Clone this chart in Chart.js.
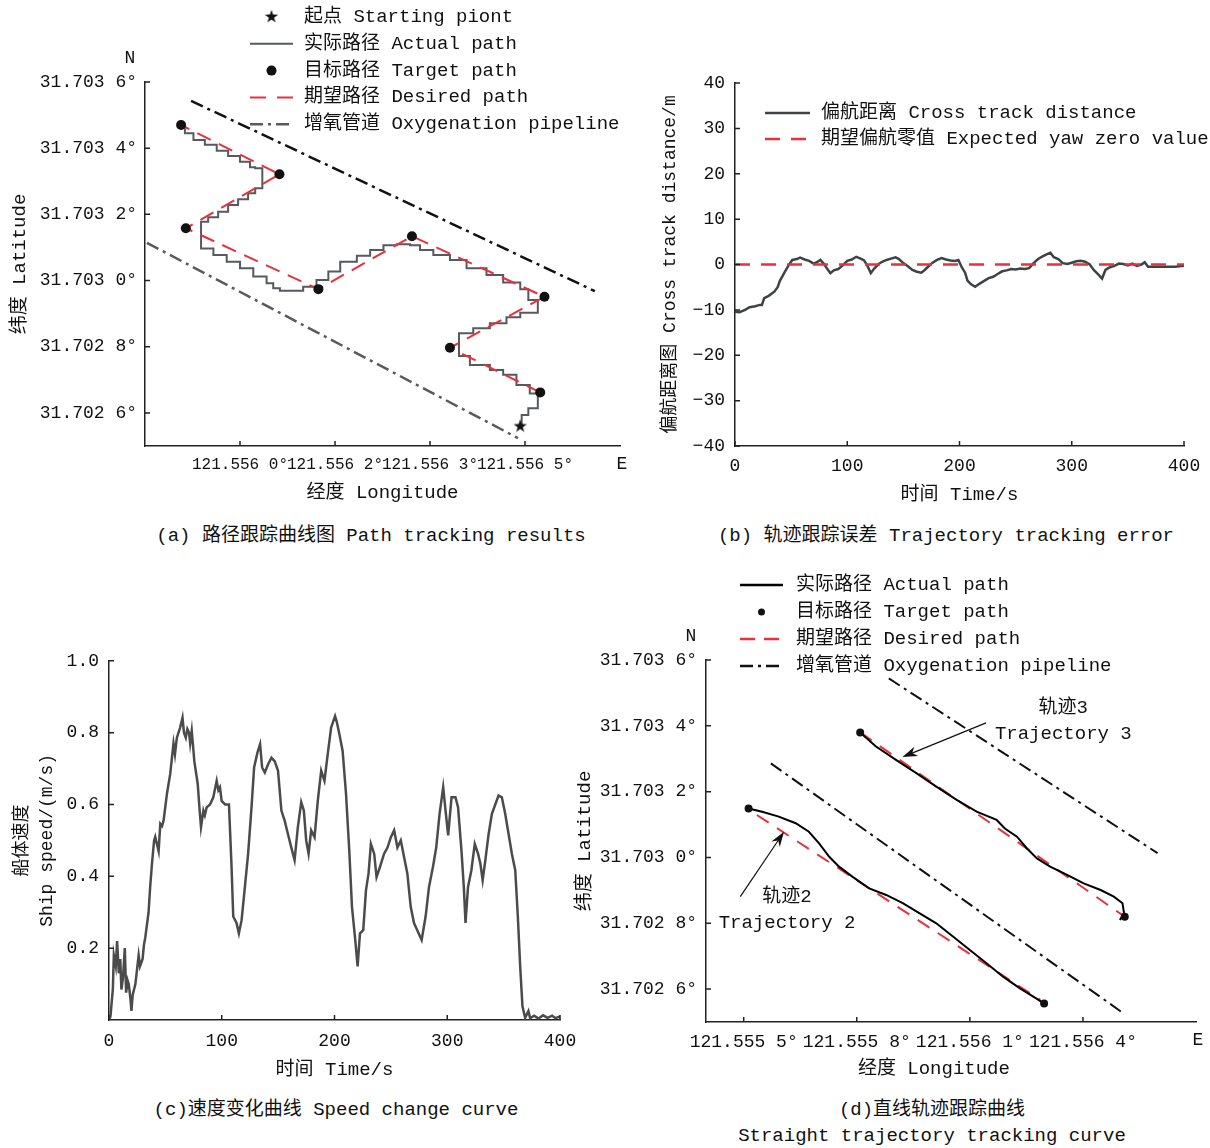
<!DOCTYPE html>
<html>
<head>
<meta charset="utf-8">
<script src="https://cdn.jsdelivr.net/npm/chart.js@4.4.1/dist/chart.umd.min.js"></script>
<style>
body{margin:0;background:#fff;width:1210px;height:1148px;position:relative;overflow:hidden;
  font-family:"Liberation Mono","Noto Sans CJK SC",monospace;color:#111}
canvas{position:absolute}
.cap{position:absolute;font-size:19px;line-height:26px;white-space:nowrap;transform:translateX(-50%);text-align:center}
</style>
</head>
<body>
<canvas id="ca" width="640" height="515" style="left:0;top:0"></canvas>
<canvas id="cb" width="565" height="455" style="left:645px;top:60px"></canvas>
<canvas id="cc" width="600" height="450" style="left:0;top:640px"></canvas>
<canvas id="cd" width="640" height="520" style="left:570px;top:565px"></canvas>
<div class="cap" style="left:371px;top:523px">(a) 路径跟踪曲线图 Path tracking results</div>
<div class="cap" style="left:946px;top:523px">(b) 轨迹跟踪误差 Trajectory tracking error</div>
<div class="cap" style="left:336px;top:1097px">(c)速度变化曲线 Speed change curve</div>
<div class="cap" style="left:932px;top:1097px">(d)直线轨迹跟踪曲线<br>Straight trajectory tracking curve</div>
<script>
// ---------- (a) path tracking ----------
var aPathLon = [121.556590,121.556593,121.556607,121.556607,121.556627,121.556627,121.556610,121.556582,121.556554,121.556526,
  121.556484,121.556461,121.556461,121.556491,121.556526,121.556561,121.556590,121.556627,121.556627,121.556607,
  121.556607,121.556590,121.556554,121.556519,121.556477,121.556442,121.556407,121.556379,121.556358,121.556330,
  121.556302,121.556274,121.556246,121.556211,121.556186,121.556161,121.556133,121.556105,121.556084,121.556070,
  121.556056,121.556028,121.556000,121.555972,121.555944,121.555918,121.555918,121.555933,121.555954,121.555975,
  121.555996,121.556017,121.556032,121.556047,121.556047,121.556032,121.556021,121.556000,121.555975,121.555951,
  121.555926,121.555902,121.555884];
var aPathLat = [31.702563,31.702594,31.702594,31.702614,31.702614,31.702659,31.702684,31.702715,31.702730,31.702745,
  31.702772,31.702785,31.702841,31.702856,31.702871,31.702889,31.702903,31.702916,31.702941,31.702941,
  31.702974,31.702994,31.703017,31.703037,31.703062,31.703077,31.703092,31.703107,31.703110,31.703107,
  31.703092,31.703075,31.703057,31.703027,31.703002,31.702981,31.702969,31.702969,31.702977,31.702992,
  31.703012,31.703037,31.703057,31.703077,31.703097,31.703120,31.703178,31.703191,31.703208,31.703228,
  31.703246,31.703264,31.703279,31.703299,31.703339,31.703342,31.703359,31.703376,31.703392,31.703410,
  31.703425,31.703445,31.703460];
var aTargetLon = [121.556632,121.556442,121.556641,121.556362,121.556165,121.555886,121.556083,121.555876];
var aTargetLat = [31.702662,31.702797,31.702951,31.703134,31.702974,31.703158,31.703321,31.703470];
var aStart = [121.556590, 31.702562];
var aPipeUpperLon = [121.555897, 121.556747], aPipeUpperLat = [31.703543, 31.702968];
var aPipeLowerLon = [121.555804, 121.556585], aPipeLowerLat = [31.703114, 31.702524];
var aXTicks = [121.5560, 121.5562, 121.5564, 121.5566];
var aXLabels = ['121.556 0°', '121.556 2°', '121.556 3°', '121.556 5°'];
var latTicks = [31.7026, 31.7028, 31.7030, 31.7032, 31.7034, 31.7036];
var latLabels = ['31.702 6°', '31.702 8°', '31.703 0°', '31.703 2°', '31.703 4°', '31.703 6°'];

// ---------- (b) cross track error ----------
var bTime = [0,4,9,13,18,22,24,26,30,35,38,40,44,48,51,55,58,62,66,70,73,76,79,82,85,88,92,96,100,104,108,112,115,118,121,124,128,131,135,139,
  143,146,150,154,158,162,166,169,172,176,180,184,188,192,196,199,202,205,207,210,214,218,222,226,230,234,238,242,246,250,254,258,262,266,270,274,278,281,284,288,
  292,296,300,304,308,312,316,320,324,327,330,334,338,342,346,350,354,358,362,365,368,380,392,400];
var bDist = [-10.4,-10.5,-10.0,-9.4,-9.2,-8.9,-8.9,-7.4,-6.9,-6.0,-5.0,-3.6,-1.8,-0.1,1.0,1.2,1.5,1.1,0.8,0.2,0.5,1.0,0.2,-0.9,-1.9,-1.3,-1.0,-0.2,0.8,1.1,1.7,1.3,0.9,-0.3,-1.9,-0.9,0.1,0.6,1.0,1.3,
  1.6,1.2,0.3,-0.4,-1.2,-1.6,-1.8,-1.2,-0.5,0.4,1.0,1.4,1.1,0.9,0.8,1.0,-0.6,-1.8,-3.5,-4.3,-4.9,-4.2,-3.6,-3.0,-2.7,-2.1,-1.5,-1.3,-1.0,-1.1,-0.9,-1.0,-0.8,0.3,1.2,1.8,2.3,2.6,1.6,1.2,
  0.3,0.1,0.4,0.7,0.8,0.6,0.0,-1.3,-2.3,-3.1,-1.2,-0.6,-0.3,0.2,0.1,-0.2,0.2,-0.3,0.0,0.5,-0.5,-0.5,-0.5,-0.3];
var bZero = [0, 0];
var bZeroTime = [0, 400];

// ---------- (c) speed ----------
var cTime = [0,1.3,3.4,4.3,6,7.2,8.7,10,11,12.5,14,15.2,16.5,17.5,19,19.9,21,23.4,26.3,27.5,29.8,31,32.2,35.1,36.5,38.1,40,41,42.5,44,45.5,47,48.4,51.4,54.3,57.2,58.5,60.2,63.1,65.2,
  66.5,68.1,69.5,71,72,73.4,75.7,78.7,80,81.6,83.7,85,86.6,89.6,92.5,95.5,97,98.4,99.9,103,106.4,108.7,110.2,113.1,115.2,117.6,120.5,123.4,126.4,128.7,
  131.7,134,135.8,138.2,141.1,144.1,147,149.9,152.9,155.8,158.7,161.7,164.6,167.5,170.5,172.8,174.9,177,179.3,182.3,185.2,188.2,191.1,194,197,200.5,202,204.3,207.2,210.2,
  213.1,215.5,218.4,220.5,222.6,225.5,227.9,230.2,232.3,235.2,237.3,240.3,244,247,250,252.9,255.8,258.8,261.7,264.6,267.6,270.5,273.4,277.3,280.8,283.8,287.3,290.2,293.2,296.4,
  298.5,300.8,303.8,307.3,309.6,312.6,314.7,316.2,318.4,321.4,324.4,327.3,329.4,331.4,333.8,336.7,339.6,342.6,345.5,348.4,351.4,354.4,357.3,360.3,362.6,364.7,366.7,369.1,372,373.5,
  377,381,385,389,393,396,400];
var cSpeed = [0,0.01,0.085,0.18,0.15,0.22,0.13,0.17,0.085,0.12,0.20,0.076,0.11,0.10,0.06,0.025,0.07,0.10,0.18,0.15,0.17,0.21,0.23,0.30,0.37,0.435,0.50,0.51,0.49,0.47,0.546,0.54,0.555,0.63,0.685,0.77,0.74,0.786,0.814,0.842,
  0.80,0.786,0.81,0.80,0.77,0.805,0.72,0.657,0.60,0.537,0.583,0.57,0.592,0.60,0.62,0.666,0.64,0.648,0.61,0.60,0.60,0.426,0.288,0.27,0.241,0.278,0.37,0.463,0.592,0.703,
  0.745,0.768,0.703,0.689,0.712,0.73,0.72,0.694,0.583,0.555,0.518,0.48,0.445,0.537,0.606,0.583,0.50,0.463,0.528,0.509,0.611,0.694,0.666,0.74,0.814,0.846,0.83,0.796,0.749,0.63,
  0.472,0.315,0.223,0.149,0.241,0.25,0.361,0.408,0.49,0.463,0.398,0.426,0.463,0.48,0.509,0.528,0.48,0.50,0.454,0.408,0.315,0.27,0.25,0.223,0.288,0.37,0.426,0.48,0.574,0.648,
  0.583,0.514,0.62,0.62,0.592,0.472,0.37,0.27,0.37,0.417,0.49,0.463,0.435,0.389,0.445,0.518,0.574,0.60,0.625,0.62,0.574,0.518,0.463,0.417,0.288,0.149,0.038,0.006,0.025,0.005,
  0.012,0.004,0.013,0.006,0.012,0.005,0.01];
var cYTicks = [0.2, 0.4, 0.6, 0.8, 1.0];

// ---------- (d) straight tracking ----------
var d3Lon = [121.555809,121.555851,121.555905,121.555958,121.556011,121.556065,121.556118,121.556171,121.556193,121.556225,
  121.556251,121.556278,121.556313,121.556358,121.556402,121.556447,121.556482,121.556505,121.556509,121.556498];
var d3Lat = [31.703380,31.703337,31.703296,31.703256,31.703215,31.703175,31.703139,31.703114,31.703088,31.703063,
  31.703028,31.702997,31.702972,31.702947,31.702921,31.702901,31.702881,31.702861,31.702830,31.702810];
var d2Lon = [121.555513,121.555549,121.555593,121.555638,121.555673,121.555700,121.555727,121.555753,121.555789,121.555833,
  121.555878,121.555922,121.555967,121.556011,121.556056,121.556100,121.556145,121.556189,121.556233,121.556278,121.556297];
var d2Lat = [31.703149,31.703139,31.703124,31.703104,31.703078,31.703043,31.703002,31.702972,31.702941,31.702906,
  31.702886,31.702861,31.702830,31.702800,31.702759,31.702719,31.702678,31.702637,31.702602,31.702570,31.702556];
var dTargetLon = [121.555809, 121.556511, 121.555513, 121.556297];
var dTargetLat = [31.703380, 31.702820, 31.703149, 31.702556];
var dDesired3Lon = [121.555809, 121.556511], dDesired3Lat = [31.703380, 31.702820];
var dDesired2Lon = [121.555535, 121.556287], dDesired2Lat = [31.703129, 31.702567];
var dPipeUpperLon = [121.555885, 121.556598], dPipeUpperLat = [31.703544, 31.703013];
var dPipeLowerLon = [121.555572, 121.556508], dPipeLowerLat = [31.703286, 31.702526];
var dXTicks = [121.5555, 121.5558, 121.5561, 121.5564];
var dXLabels = ['121.555 5°', '121.555 8°', '121.556 1°', '121.556 4°'];
var dArrowFrom = [[121.556143, 31.703409], [121.555491, 31.702881]];
var dArrowTo = [[121.555921, 31.703305], [121.555607, 31.703078]];
var dNoteLon = [121.556348, 121.555615];
var dNoteLat = [[31.703454, 31.703375], [31.702880, 31.702801]];
var dNotes = [['轨迹3', 'Trajectory 3'], ['轨迹2', 'Trajectory 2']];

// ---------- shared helpers ----------
var FAM = '"Liberation Mono", "Noto Sans CJK SC", monospace';
var RED = '#e8313c', INK = '#111';
Chart.defaults.font.family = FAM;
Chart.defaults.color = INK;
Chart.defaults.animation = false;

function pts(xs, ys) {
  var out = [];
  for (var i = 0; i < xs.length; i++) out.push({x: xs[i], y: ys[i]});
  return out;
}
function fnt(sz) { return sz + 'px ' + FAM; }

var starImg = document.createElement('canvas');
starImg.width = 16; starImg.height = 16;
(function() {
  var c = starImg.getContext('2d');
  c.fillStyle = INK; c.beginPath();
  for (var i = 0; i < 10; i++) {
    var r = i % 2 ? 2.7 : 7, a = -Math.PI / 2 + i * Math.PI / 5;
    c.lineTo(8 + r * Math.cos(a), 8.8 + r * Math.sin(a));
  }
  c.closePath(); c.fill();
})();

// ticks pointing into the plot, N / E marks
var inwardTicks = {
  id: 'inwardTicks',
  afterDraw: function(chart, args, opts) {
    var ctx = chart.ctx, x = chart.scales.x, y = chart.scales.y;
    ctx.save();
    ctx.strokeStyle = '#222'; ctx.lineWidth = 1.5;
    ctx.beginPath();
    x.ticks.forEach(function(t) { var p = x.getPixelForValue(t.value); ctx.moveTo(p, x.top); ctx.lineTo(p, x.top - 5); });
    y.ticks.forEach(function(t) { var p = y.getPixelForValue(t.value); ctx.moveTo(y.right, p); ctx.lineTo(y.right + 5, p); });
    ctx.stroke();
    if (opts.compass) {
      ctx.fillStyle = INK; ctx.font = fnt(18); ctx.textAlign = 'center'; ctx.textBaseline = 'middle';
      ctx.fillText('N', y.right - 15, y.top - 24);
      ctx.fillText('E', x.right + 2, x.top + 18);
    }
    ctx.restore();
  }
};

function legendPlugin(items, L) {
  return {
    id: 'customLegend',
    afterDraw: function(chart) {
      var ctx = chart.ctx;
      ctx.save();
      items.forEach(function(it, i) {
        var yy = L.y0 + i * L.dy, xm = (L.x0 + L.x1) / 2;
        ctx.strokeStyle = it.color; ctx.fillStyle = it.color; ctx.lineWidth = it.width || 2;
        if (it.kind === 'line') {
          ctx.setLineDash(it.dash || []);
          ctx.beginPath(); ctx.moveTo(L.x0, yy); ctx.lineTo(L.x1, yy); ctx.stroke();
          ctx.setLineDash([]);
        } else if (it.kind === 'dot') {
          ctx.beginPath(); ctx.arc(xm, yy, it.r, 0, 2 * Math.PI); ctx.fill();
        } else if (it.kind === 'star') {
          ctx.drawImage(starImg, xm - 8, yy - 9);
        }
        ctx.fillStyle = INK; ctx.font = fnt(19); ctx.textAlign = 'left'; ctx.textBaseline = 'middle';
        ctx.fillText(it.text, L.tx, yy);
      });
      ctx.restore();
    }
  };
}

function axisBase(min, max, tickVals, labels, fontSize, pad) {
  return {
    type: 'linear', min: min, max: max,
    grid: {display: false, drawTicks: false},
    border: {color: '#222', width: 1.5},
    afterBuildTicks: function(s) { s.ticks = tickVals.map(function(v) { return {value: v}; }); },
    ticks: {
      autoSkip: false, maxRotation: 0, minRotation: 0, padding: pad,
      font: {size: fontSize}, color: INK,
      callback: function(v, i) { return labels[i]; }
    }
  };
}

var DASHDOT = [13, 5, 3, 5];

// ---------- chart (a) ----------
(function() {
  var xs = axisBase(121.5558, 121.5568, aXTicks, aXLabels, 16, 9);
  xs.afterFit = function(s) { s.height = 69; };
  xs.title = {display: true, text: '经度 Longitude', font: {size: 19}, color: INK, padding: {top: 0, bottom: 10.6}};
  var ys = axisBase(31.7025, 31.7036, latTicks, latLabels, 18, 8);
  ys.afterFit = function(s) { s.width = 145; };
  ys.title = {display: true, text: '纬度 Latitude', font: {size: 19}, color: INK, padding: {top: 8.6, bottom: 0}};

  new Chart(document.getElementById('ca'), {
    type: 'scatter',
    data: {datasets: [
      {data: [{x: aStart[0], y: aStart[1]}], pointStyle: starImg, pointRadius: 8, showLine: false},
      {data: pts(aTargetLon, aTargetLat), pointRadius: 5, pointBackgroundColor: INK, pointBorderWidth: 0, showLine: false},
      {data: pts(aTargetLon, aTargetLat), showLine: true, pointRadius: 0, borderColor: RED, borderWidth: 2, borderDash: [15, 9]},
      {data: pts(aPathLon, aPathLat), showLine: true, stepped: true, pointRadius: 0, borderColor: '#565a5c', borderWidth: 2},
      {data: pts(aPipeUpperLon, aPipeUpperLat), showLine: true, pointRadius: 0, borderColor: '#111', borderWidth: 2.5, borderDash: DASHDOT},
      {data: pts(aPipeLowerLon, aPipeLowerLat), showLine: true, pointRadius: 0, borderColor: '#5a5a5a', borderWidth: 2.5, borderDash: DASHDOT}
    ]},
    options: {
      responsive: false,
      layout: {padding: {left: 0, top: 82, right: 20, bottom: 0}},
      plugins: {legend: {display: false}, tooltip: {enabled: false}, inwardTicks: {compass: true}},
      scales: {x: xs, y: ys}
    },
    plugins: [inwardTicks, legendPlugin([
      {kind: 'star', color: INK, text: '起点 Starting piont'},
      {kind: 'line', color: '#565a5c', width: 2, text: '实际路径 Actual path'},
      {kind: 'dot', color: INK, r: 5, text: '目标路径 Target path'},
      {kind: 'line', color: RED, width: 2, dash: [16, 11], text: '期望路径 Desired path'},
      {kind: 'line', color: '#5a5a5a', width: 2.5, dash: DASHDOT, text: '增氧管道 Oxygenation pipeline'}
    ], {x0: 250, x1: 293, tx: 304, y0: 17, dy: 26.8})]
  });
})();

// ---------- chart (b) ----------
(function() {
  var xs = axisBase(0, 400, [0, 100, 200, 300, 400], ['0', '100', '200', '300', '400'], 18, 9);
  xs.afterFit = function(s) { s.height = 69; };
  xs.title = {display: true, text: '时间 Time/s', font: {size: 19}, color: INK, padding: {top: 0, bottom: 8.6}};
  var yv = [-40, -30, -20, -10, 0, 10, 20, 30, 40];
  var ys = axisBase(-40, 40, yv, yv.map(function(v) { return String(v).replace('-', '−'); }), 18, 10);
  ys.afterFit = function(s) { s.width = 90; };
  ys.title = {display: true, text: '偏航距离图 Cross track distance/m', font: {size: 18}, color: INK, padding: {top: 14, bottom: 0}};

  new Chart(document.getElementById('cb'), {
    type: 'scatter',
    data: {datasets: [
      {data: pts(bZeroTime, bZero), showLine: true, pointRadius: 0, borderColor: RED, borderWidth: 2.5, borderDash: [15, 11]},
      {data: pts(bTime, bDist), showLine: true, pointRadius: 0, borderColor: '#3f4346', borderWidth: 2.5}
    ]},
    options: {
      responsive: false,
      layout: {padding: {left: 0, top: 23, right: 26, bottom: 0}},
      plugins: {legend: {display: false}, tooltip: {enabled: false}, inwardTicks: {compass: false}},
      scales: {x: xs, y: ys}
    },
    plugins: [inwardTicks, legendPlugin([
      {kind: 'line', color: '#3f4346', width: 2.5, text: '偏航距离 Cross track distance'},
      {kind: 'line', color: RED, width: 2.5, dash: [15, 11], text: '期望偏航零值 Expected yaw zero value'}
    ], {x0: 120, x1: 165, tx: 176, y0: 53, dy: 26})]
  });
})();

// ---------- chart (c) ----------
(function() {
  var xs = axisBase(0, 400, [0, 100, 200, 300, 400], ['0', '100', '200', '300', '400'], 18, 10);
  xs.afterFit = function(s) { s.height = 70; };
  xs.title = {display: true, text: '时间 Time/s', font: {size: 19}, color: INK, padding: {top: 0, bottom: 8.6}};
  var ys = axisBase(0, 1.0, cYTicks, cYTicks.map(function(v) { return v.toFixed(1); }), 18, 10);
  ys.afterFit = function(s) { s.width = 109; };
  ys.title = {display: true, text: ['船体速度', 'Ship speed/(m/s)'], font: {size: 18, lineHeight: 1.4}, color: INK, padding: {top: 9.4, bottom: 0}};

  new Chart(document.getElementById('cc'), {
    type: 'scatter',
    data: {datasets: [
      {data: pts(cTime, cSpeed), showLine: true, pointRadius: 0, borderColor: '#4b4b4b', borderWidth: 2.5}
    ]},
    options: {
      responsive: false,
      layout: {padding: {left: 0, top: 20, right: 40, bottom: 0}},
      plugins: {legend: {display: false}, tooltip: {enabled: false}, inwardTicks: {compass: false}},
      scales: {x: xs, y: ys}
    },
    plugins: [inwardTicks]
  });
})();

// ---------- chart (d) ----------
(function() {
  var xs = axisBase(121.5554, 121.5567, dXTicks, dXLabels, 18, 9);
  xs.afterFit = function(s) { s.height = 63; };
  // trailing spaces pull the title a little left, as in the figure
  xs.title = {display: true, text: '经度 Longitude   ', font: {size: 19}, color: INK, padding: {top: 0, bottom: 4.6}};
  var ys = axisBase(31.7025, 31.7036, latTicks, latLabels, 18, 9);
  ys.afterFit = function(s) { s.width = 136; };
  ys.title = {display: true, text: '纬度 Latitude', font: {size: 19}, color: INK, padding: {top: 3.6, bottom: 0}};

  var notes = {
    id: 'notes',
    afterDraw: function(chart) {
      var ctx = chart.ctx, x = chart.scales.x, y = chart.scales.y;
      ctx.save();
      ctx.strokeStyle = INK; ctx.fillStyle = INK; ctx.lineWidth = 1.2;
      dArrowFrom.forEach(function(f, i) {
        var x1 = x.getPixelForValue(f[0]), y1 = y.getPixelForValue(f[1]);
        var x2 = x.getPixelForValue(dArrowTo[i][0]), y2 = y.getPixelForValue(dArrowTo[i][1]);
        var a = Math.atan2(y2 - y1, x2 - x1), hl = 15, hw = 5;
        ctx.beginPath(); ctx.moveTo(x1, y1); ctx.lineTo(x2 - hl * 0.7 * Math.cos(a), y2 - hl * 0.7 * Math.sin(a)); ctx.stroke();
        ctx.beginPath();
        ctx.moveTo(x2, y2);
        ctx.lineTo(x2 - hl * Math.cos(a) + hw * Math.sin(a), y2 - hl * Math.sin(a) - hw * Math.cos(a));
        ctx.lineTo(x2 - hl * 0.7 * Math.cos(a), y2 - hl * 0.7 * Math.sin(a));
        ctx.lineTo(x2 - hl * Math.cos(a) - hw * Math.sin(a), y2 - hl * Math.sin(a) + hw * Math.cos(a));
        ctx.closePath(); ctx.fill();
      });
      ctx.font = fnt(19); ctx.textAlign = 'center'; ctx.textBaseline = 'middle';
      dNotes.forEach(function(n, i) {
        var px = x.getPixelForValue(dNoteLon[i]);
        ctx.fillText(n[0], px, y.getPixelForValue(dNoteLat[i][0]));
        ctx.fillText(n[1], px, y.getPixelForValue(dNoteLat[i][1]));
      });
      ctx.restore();
    }
  };

  new Chart(document.getElementById('cd'), {
    type: 'scatter',
    data: {datasets: [
      {data: pts(dTargetLon, dTargetLat), pointRadius: 4, pointBackgroundColor: INK, pointBorderWidth: 0, showLine: false},
      {data: pts(d3Lon, d3Lat), showLine: true, pointRadius: 0, borderColor: '#000', borderWidth: 2},
      {data: pts(d2Lon, d2Lat), showLine: true, pointRadius: 0, borderColor: '#000', borderWidth: 2},
      {data: pts(dDesired3Lon, dDesired3Lat), showLine: true, pointRadius: 0, borderColor: RED, borderWidth: 2, borderDash: [14, 10]},
      {data: pts(dDesired2Lon, dDesired2Lat), showLine: true, pointRadius: 0, borderColor: RED, borderWidth: 2, borderDash: [14, 10]},
      {data: pts(dPipeUpperLon, dPipeUpperLat), showLine: true, pointRadius: 0, borderColor: '#111', borderWidth: 2, borderDash: DASHDOT},
      {data: pts(dPipeLowerLon, dPipeLowerLat), showLine: true, pointRadius: 0, borderColor: '#111', borderWidth: 2, borderDash: DASHDOT}
    ]},
    options: {
      responsive: false,
      layout: {padding: {left: 0, top: 95, right: 14, bottom: 0}},
      plugins: {legend: {display: false}, tooltip: {enabled: false}, inwardTicks: {compass: true}},
      scales: {x: xs, y: ys}
    },
    plugins: [inwardTicks, notes, legendPlugin([
      {kind: 'line', color: '#000', width: 2.5, text: '实际路径 Actual path'},
      {kind: 'dot', color: INK, r: 3.5, text: '目标路径 Target path'},
      {kind: 'line', color: RED, width: 2.5, dash: [15, 9], text: '期望路径 Desired path'},
      {kind: 'line', color: '#111', width: 2.5, dash: DASHDOT, text: '增氧管道 Oxygenation pipeline'}
    ], {x0: 170, x1: 213, tx: 226, y0: 20, dy: 27})]
  });
})();
</script>
</body>
</html>
